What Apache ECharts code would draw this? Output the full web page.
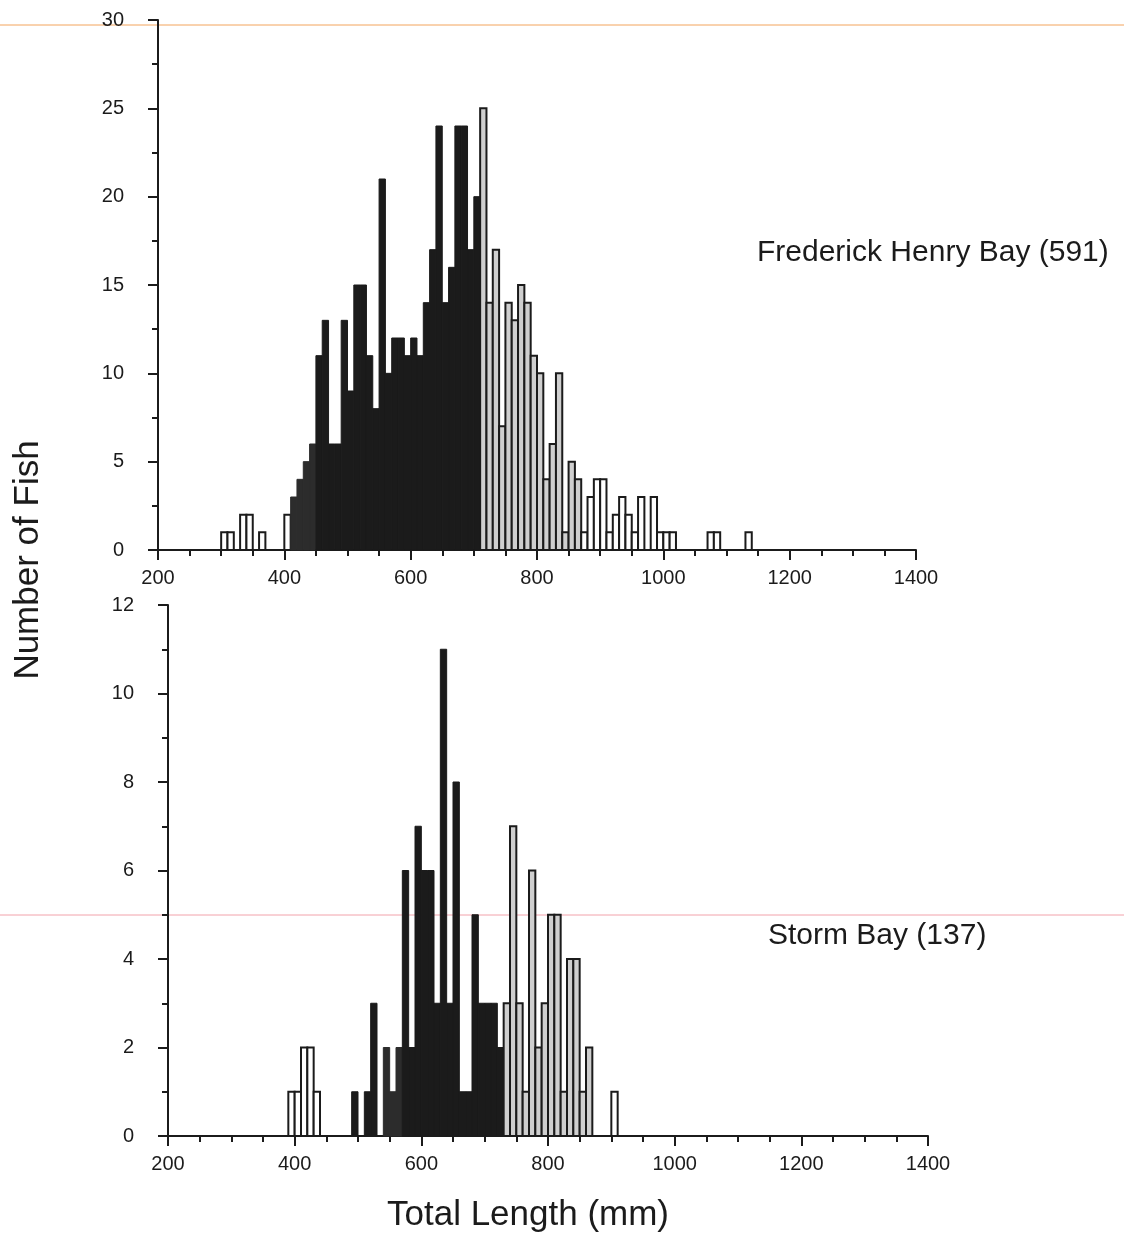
<!DOCTYPE html>
<html>
<head>
<meta charset="utf-8">
<title>Length frequency</title>
<script src="https://cdn.jsdelivr.net/npm/echarts@6/dist/echarts.min.js"></script>
<style>
    html, body { margin: 0; padding: 0; background: #fff; }
    #chart { width: 1124px; height: 1238px; }
</style>
</head>
<body>
<div id="chart"></div>
<script>
    // 10 mm length classes, counts
    const binWidth = 10;
    const lengthTicks = [200, 400, 600, 800, 1000, 1200, 1400];

    // Frederick Henry Bay, classes from 300 mm
    const fhbStart = 300;
    const fhbCounts = [
        1, 1, 0, 2, 2, 0, 1, 0, 0, 0,          // 300-390
        2, 3, 4, 5, 6,                         // 400-440
        11, 13, 6, 6, 13, 9, 15, 15, 11, 8,    // 450-540
        21, 10, 12, 12, 11, 12, 11, 14, 17, 24,// 550-640
        14, 16, 24, 24, 17, 20,                // 650-700
        25, 14, 17, 7, 14, 13, 15, 14, 11, 10, // 710-800
        4, 6, 10, 1, 5, 4, 1, 3, 4, 4,         // 810-900
        1, 2, 3, 2, 1, 3, 0, 3, 1, 1,          // 910-1000
        1, 0, 0, 0, 0, 0, 1, 1, 0, 0,          // 1010-1100
        0, 0, 1                                // 1110-1130
    ];

    // Storm Bay, classes from 390 mm
    const sbStart = 390;
    const sbCounts = [
        1, 1, 2, 2, 1, 0, 0, 0, 0, 0,          // 390-480
        1, 0, 1, 3, 0, 2, 1, 2, 6, 2,          // 490-580
        7, 6, 6, 3, 11, 3, 8, 1, 1, 5,         // 590-680
        3, 3, 3, 2, 3, 7, 3, 1, 6, 2,          // 690-780
        3, 5, 5, 1, 4, 4, 1, 2, 0, 0,          // 790-880
        0, 1                                   // 890-900
    ];

    const ink = '#1b1b1b';
    const font = '"Liberation Sans", Arial, Helvetica, sans-serif';

    const shades = {
        open: {fill: '#ffffff', stroke: ink, lineWidth: 2},
        dot: {fill: '#2c2c2c', stroke: '#2c2c2c', lineWidth: 1},
        solid: {fill: ink, stroke: ink, lineWidth: 1},
        grey: {fill: '#cfcfcf', stroke: ink, lineWidth: 2}
    };

    function shadeFhb(mm) {
        if (mm < 410) return 'open';
        if (mm < 450) return 'dot';
        if (mm < 710) return 'solid';
        if (mm < 870) return 'grey';
        return 'open';
    }

    function shadeSb(mm) {
        if (mm < 480) return 'open';
        if (mm < 530) return 'solid';
        if (mm < 570) return 'dot';
        if (mm < 730) return 'solid';
        if (mm < 880) return 'grey';
        return 'open';
    }

    function toData(start, counts) {
        return counts.map((c, i) => [start + i * binWidth, c]);
    }

    function histRenderer(shadeFn) {
        return function (params, api) {
            const x0 = api.value(0);
            const v = api.value(1);
            if (!v) return null;
            const p0 = api.coord([x0, v]);
            const p1 = api.coord([x0 + binWidth, 0]);
            const s = shades[shadeFn(x0)];
            return {
                type: 'rect',
                shape: {x: p0[0], y: p0[1], width: p1[0] - p0[0], height: p1[1] - p0[1]},
                style: {fill: s.fill, stroke: s.stroke, lineWidth: s.lineWidth}
            };
        };
    }

    function xAxis(gridIndex) {
        return {
            type: 'value', gridIndex: gridIndex,
            min: lengthTicks[0], max: lengthTicks[lengthTicks.length - 1],
            interval: lengthTicks[1] - lengthTicks[0],
            axisLine: {lineStyle: {color: ink, width: 2}},
            axisTick: {length: 10, lineStyle: {color: ink, width: 2}},
            minorTick: {show: true, splitNumber: 4, length: 6, lineStyle: {color: ink, width: 2}},
            splitLine: {show: false},
            axisLabel: {
                color: ink, fontSize: 20, fontFamily: font, margin: 18,
                formatter: v => String(v)
            }
        };
    }

    function yAxis(gridIndex, max, interval) {
        return {
            type: 'value', gridIndex: gridIndex,
            min: 0, max: max, interval: interval,
            axisLine: {show: true, lineStyle: {color: ink, width: 2}},
            axisTick: {show: true, length: 10, lineStyle: {color: ink, width: 2}},
            minorTick: {show: true, splitNumber: 2, length: 6, lineStyle: {color: ink, width: 2}},
            splitLine: {show: false},
            axisLabel: {color: ink, fontSize: 20, fontFamily: font, margin: 34}
        };
    }

    const option = {
        backgroundColor: '#ffffff',
        animation: false,
        grid: [
            {left: 158, top: 20, width: 758, height: 530},
            {left: 168, top: 605, width: 760, height: 531}
        ],
        xAxis: [xAxis(0), xAxis(1)],
        yAxis: [yAxis(0, 30, 5), yAxis(1, 12, 2)],
        series: [
            {
                name: 'Frederick Henry Bay', type: 'custom',
                xAxisIndex: 0, yAxisIndex: 0,
                renderItem: histRenderer(shadeFhb),
                encode: {x: 0, y: 1},
                data: toData(fhbStart, fhbCounts)
            },
            {
                name: 'Storm Bay', type: 'custom',
                xAxisIndex: 1, yAxisIndex: 1,
                renderItem: histRenderer(shadeSb),
                encode: {x: 0, y: 1},
                data: toData(sbStart, sbCounts)
            }
        ],
        graphic: [
            // faint guide lines visible on the scan
            {type: 'line', shape: {x1: 0, y1: 25, x2: 1124, y2: 25}, style: {stroke: '#f3a45c', lineWidth: 1}, z: -1},
            {type: 'line', shape: {x1: 0, y1: 915, x2: 1124, y2: 915}, style: {stroke: '#f2a2ab', lineWidth: 1}, z: -1},
            {
                type: 'text', left: 757, top: 238,
                style: {text: 'Frederick Henry Bay (591)', font: '30px ' + font, fill: ink}
            },
            {
                type: 'text', left: 768, top: 921,
                style: {text: 'Storm Bay (137)', font: '30px ' + font, fill: ink}
            },
            {
                type: 'text', x: 28, y: 560, rotation: Math.PI / 2,
                style: {text: 'Number of Fish', font: '35px ' + font, fill: ink, align: 'center', verticalAlign: 'middle'}
            },
            {
                type: 'text', x: 528, y: 1215,
                style: {text: 'Total Length (mm)', font: '35px ' + font, fill: ink, align: 'center', verticalAlign: 'middle'}
            }
        ]
    };

    const myChart = echarts.init(document.getElementById('chart'));
    myChart.setOption(option);
</script>
</body>
</html>
